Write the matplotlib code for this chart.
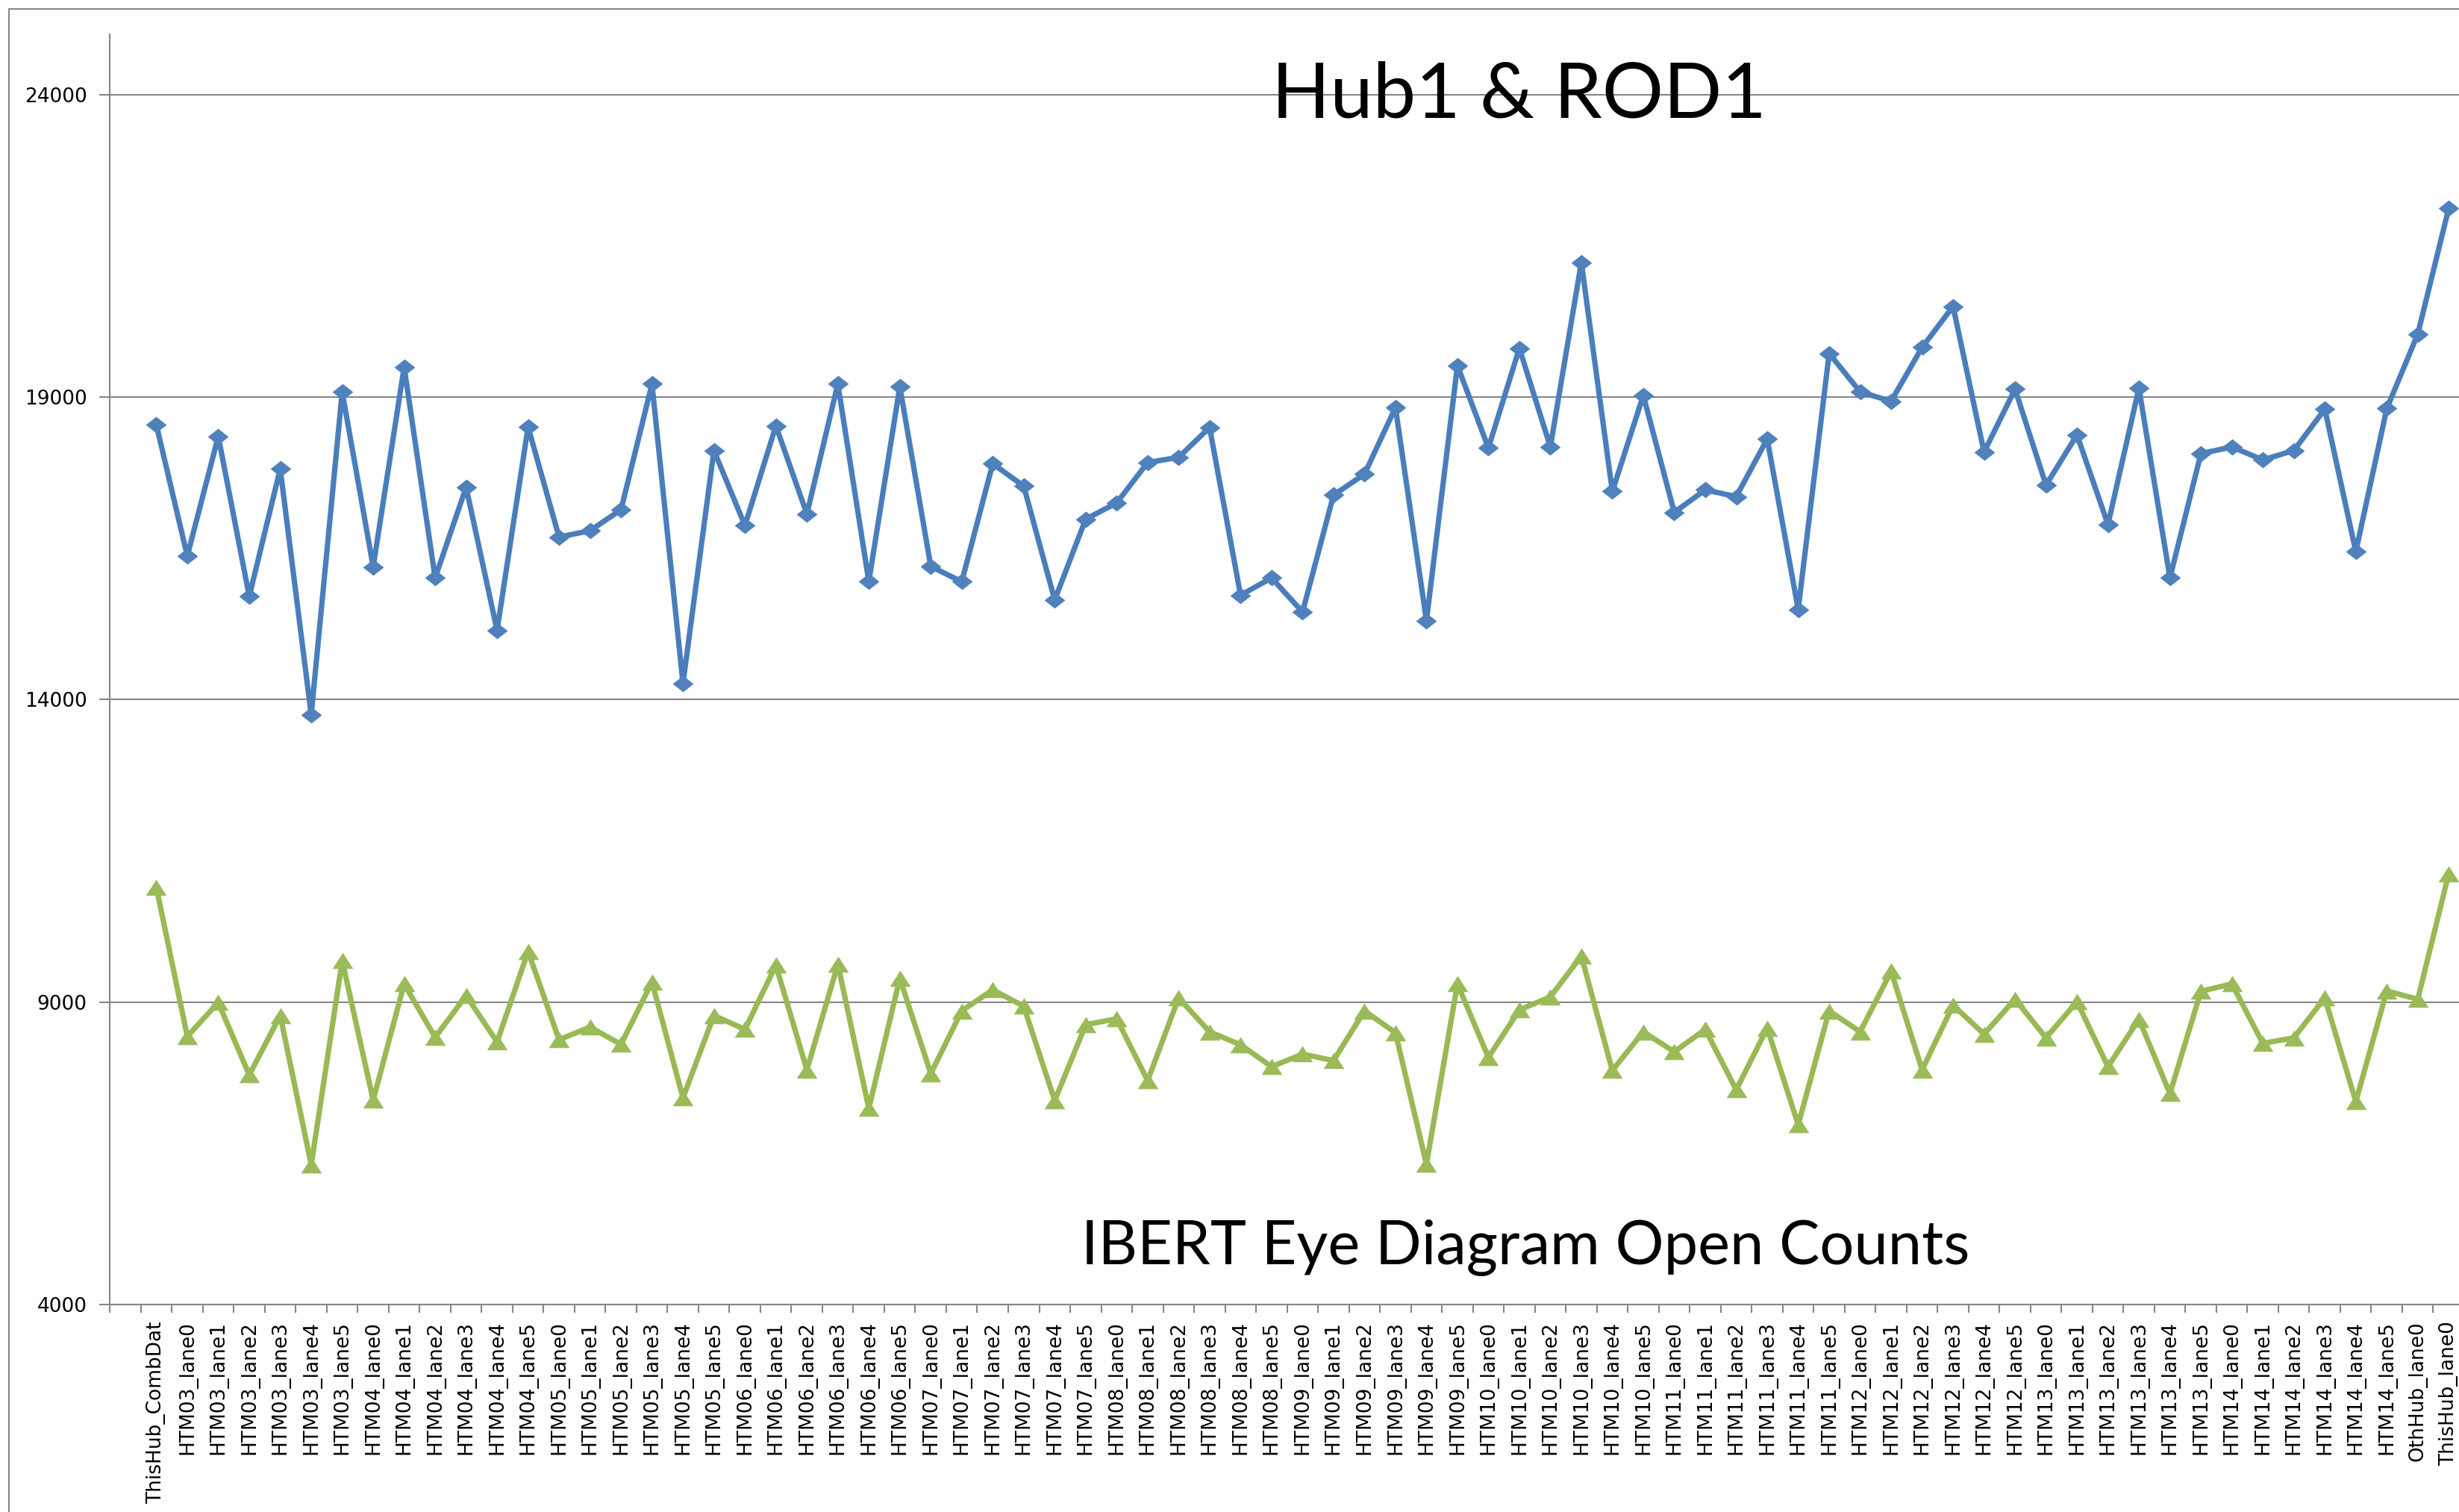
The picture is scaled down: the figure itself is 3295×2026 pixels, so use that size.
import numpy as np
import matplotlib
matplotlib.use("Agg")
import matplotlib.pyplot as plt
from matplotlib.lines import Line2D

# ---------------- data ----------------
categories = (["ThisHub_CombDat"]
              + [f"HTM{h:02d}_lane{l}" for h in range(3, 15) for l in range(6)]
              + ["OthHub_lane0", "ThisHub_lane0"])

hub_rod = [18541, 16373, 18349, 15707, 17812, 13748, 19086, 16192, 19494, 16010,
           17509, 15143, 18506, 16686, 16790, 17137, 19216, 14265, 18116, 16876,
           18523, 17067, 19216, 15949, 19173, 16200, 15949, 17898, 17527, 15646,
           16981, 17250, 17917, 18003, 18497, 15724, 16010, 15447, 17379, 17726,
           18826, 15299, 19520, 18159, 19806, 18176, 21226, 17440, 19026, 17093,
           17466, 17353, 18306, 15490, 19720, 19086, 18930, 19822, 20498, 18090,
           19130, 17544, 18375, 16893, 19147, 16010, 18064, 18176, 17960, 18116,
           18800, 16443, 18809, 20040, 22120]

ibert = [10898, 8432, 8993, 7794, 8778, 6310, 9684, 7379, 9300, 8416,
         9107, 8339, 9837, 8378, 8585, 8301, 9330, 7417, 8778, 8547,
         9608, 7879, 9623, 7240, 9391, 7817, 8854, 9200, 8931, 7371,
         8624, 8724, 7701, 9069, 8508, 8293, 7931, 8139, 8032, 8854,
         8492, 6318, 9300, 8086, 8869, 9085, 9761, 7870, 8508, 8178,
         8547, 7548, 8570, 6971, 8854, 8508, 9508, 7879, 8947, 8470,
         9046, 8409, 9007, 7931, 8716, 7486, 9177, 9300, 8316, 8409,
         9069, 7355, 9184, 9046, 11121]

y_ticks = [4000, 9000, 14000, 19000, 24000]
title_top = "Hub1 & ROD1"
title_bottom = "IBERT Eye Diagram Open Counts"

# ---------------- figure ----------------
W, H = 3295, 2026
DPI = 100
fig = plt.figure(figsize=(W / DPI, H / DPI), dpi=DPI)
fig.patch.set_facecolor("white")

ax_l, ax_r, ax_t, ax_b = 147.2, 3302.0, 45.6, 1748.0
ax = fig.add_axes([ax_l / W, 1 - ax_b / H, (ax_r - ax_l) / W, (ax_b - ax_t) / H])

grey = "#868686"
blue_line, blue_mk = "#4A7EBB", "#4F81BD"
green_line, green_mk = "#98B954", "#9BBB59"

n = len(categories)
x = np.arange(n) + 1.5          # one empty slot before the first category

diamond = [(-1, 0), (0, 0.79), (1, 0), (0, -0.79), (-1, 0)]
triangle = [(0, 0.78), (-1, -0.78), (1, -0.78), (0, 0.78)]

ax.plot(x, hub_rod, color=blue_line, lw=5.2, marker=diamond, ms=20,
        mfc=blue_mk, mec=blue_mk, mew=0, zorder=3, clip_on=False)
ax.plot(x, ibert, color=green_line, lw=5.2, marker=triangle, ms=20,
        mfc=green_mk, mec=green_mk, mew=0, zorder=3, clip_on=False)

ax.set_xlim(0, n + 1)
ax.set_ylim(4000, 25000)

ax.set_yticks(y_ticks)
ax.set_yticklabels([str(v) for v in y_ticks])
ax.yaxis.grid(True, color=grey, lw=1.5)
ax.set_axisbelow(True)

ax.set_xticks(x)
ax.set_xticklabels(categories, rotation=90)
ax.set_xticks(np.arange(0, n + 2), minor=True)
ax.tick_params(axis="x", which="major", length=0, pad=16, labelsize=19)
ax.tick_params(axis="x", which="minor", length=7.6, width=1.5, color=grey)
ax.tick_params(axis="y", which="major", length=10, width=1.5, color=grey,
               pad=12, labelsize=19)

for s in ("top", "right"):
    ax.spines[s].set_visible(False)
for s in ("left", "bottom"):
    ax.spines[s].set_color(grey)
    ax.spines[s].set_linewidth(1.5)

# titles
fig.text(2035 / W, 1 - 158 / H, title_top, family=["Lato", "DejaVu Sans"],
         fontsize=74, ha="center", va="baseline")
fig.text(2044 / W, 1 - 1694 / H, title_bottom, family=["Lato", "DejaVu Sans"],
         fontsize=58.5, ha="center", va="baseline")

# outer chart border (top and left edges visible)
bx, by = 11.5 / W, 1 - 12 / H
fig.add_artist(Line2D([bx, 1.01], [by, by], color=grey, lw=1.5,
                      transform=fig.transFigure))
fig.add_artist(Line2D([bx, bx], [by, -0.01], color=grey, lw=1.5,
                      transform=fig.transFigure))

fig.savefig("out.png", dpi=DPI)
